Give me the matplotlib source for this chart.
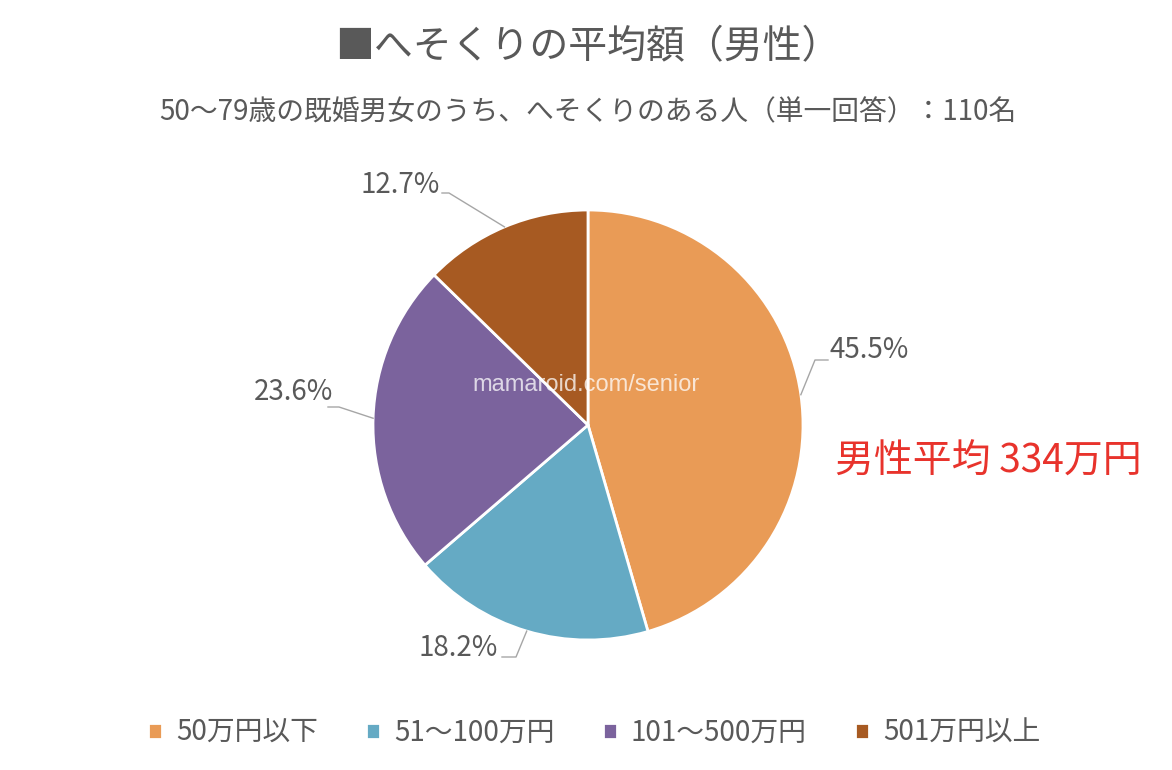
import numpy as np
import matplotlib
matplotlib.use('Agg')
import matplotlib.pyplot as plt

plt.rcParams['font.family'] = ['Noto Sans CJK JP', 'DejaVu Sans']

# データ
categories = ['50万円以下', '51～100万円', '101～500万円', '501万円以上']
values = [45.5, 18.2, 23.6, 12.7]
labels = ['45.5%', '18.2%', '23.6%', '12.7%']
colors = ['#E99B56', '#65AAC4', '#7B639D', '#A75A22']

title = '■へそくりの平均額（男性）'
subtitle = '50～79歳の既婚男女のうち、へそくりのある人（単一回答）：110名'
note = '男性平均 334万円'

W, H = 1172, 770
fig = plt.figure(figsize=(W / 100, H / 100), dpi=100)
ax = fig.add_axes([0, 0, 1, 1])

cx, cy, r = 588, H - 425, 215
wedges, _ = ax.pie(values, colors=colors, startangle=90, counterclock=False,
                   center=(cx, cy), radius=r,
                   wedgeprops=dict(edgecolor='white', linewidth=2))
ax.set_xlim(0, W)
ax.set_ylim(0, H)
ax.set_aspect('equal')
ax.axis('off')

gray = '#595959'
# ラベル位置 (elbow, text anchor, ha, line end)
lab_pos = [
    ((815, 360), (830, 350), 'left', (828, 360)),
    ((516, 657), (498, 648), 'right', (502, 657)),
    ((339, 407), (333, 392), 'right', (328, 407)),
    ((449, 193), (440, 185), 'right', (442, 193)),
]
for w, lab, (elb, tp, ha, end) in zip(wedges, labels, lab_pos):
    ang = np.deg2rad((w.theta1 + w.theta2) / 2)
    ex, ey = cx + r * np.cos(ang), cy + r * np.sin(ang)
    ax.plot([ex, elb[0], end[0]], [ey, H - elb[1], H - end[1]],
            color='#A6A6A6', lw=1, zorder=1)
    ax.text(tp[0], H - tp[1], lab, ha=ha, va='center', fontsize=20, color=gray)

ax.text(W / 2 + 2, H - 47, title, ha='center', va='center', fontsize=28, color=gray)
ax.text(W / 2 + 2, H - 112, subtitle, ha='center', va='center', fontsize=20, color=gray)
ax.text(835, H - 462, note, ha='left', va='center', fontsize=28, color='#E8332C')
ax.text(586, H - 385, 'mamaroid.com/senior', ha='center', va='center', fontsize=17,
        color='white', alpha=0.75, family='Liberation Sans')

fig.legend(wedges, categories, loc='center', bbox_to_anchor=(0.507, 1 - 733 / 770),
           ncol=4, frameon=False, fontsize=20, handlelength=0.5, handleheight=0.5,
           handletextpad=0.5, columnspacing=1.75, labelcolor=gray)

fig.savefig('out.png', dpi=100, facecolor='white')
